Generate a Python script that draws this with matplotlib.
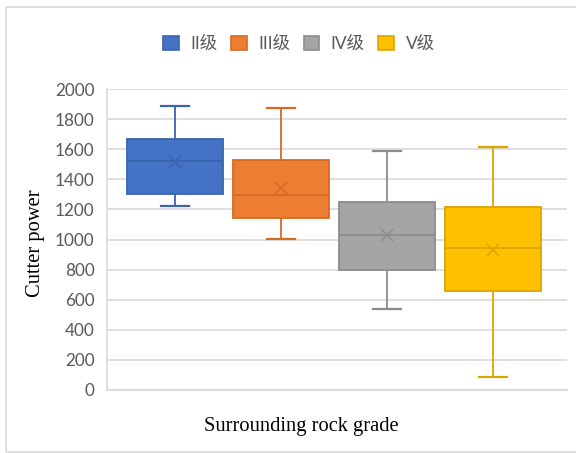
import matplotlib
matplotlib.use("Agg")
import matplotlib.pyplot as plt
from matplotlib.patches import Patch, Rectangle

# Data
grades = ["II级", "III级", "IV级", "V级"]
whisker_low = [1220, 1003, 536, 88]
q1 = [1302, 1143, 799, 658]
median = [1522, 1299, 1028, 941]
q3 = [1665, 1525, 1251, 1214]
whisker_high = [1890, 1877, 1590, 1617]
mean = [1515, 1342, 1032, 930]

face_colors = ["#4472C4", "#ED7D31", "#A5A5A5", "#FFC000"]
edge_colors = ["#3A64AE", "#D46A24", "#8C8C8C", "#DDA400"]

fig = plt.figure(figsize=(5.76, 4.53), dpi=100)
ax = fig.add_axes([107/576, 1-390/453, 460/576, 301/453])

stats = []
for i in range(len(grades)):
    stats.append(dict(label=grades[i], whislo=whisker_low[i], q1=q1[i], med=median[i],
                      q3=q3[i], whishi=whisker_high[i], mean=mean[i], fliers=[]))

positions = list(range(len(grades)))
for i, s in enumerate(stats):
    ec = edge_colors[i]
    ax.bxp([s], positions=[positions[i]], widths=0.905, capwidths=0.27,
           showmeans=True, patch_artist=True, showfliers=False,
           boxprops=dict(facecolor=face_colors[i], edgecolor=ec, linewidth=1.3),
           medianprops=dict(color=ec, linewidth=1.3),
           whiskerprops=dict(color=ec, linewidth=1.3),
           capprops=dict(color=ec, linewidth=1.6),
           meanprops=dict(marker="x", markeredgecolor=ec, markersize=9, markeredgewidth=1.1),
           zorder=3)

ax.set_xlim(-0.642, 3.698)
ax.set_ylim(0, 2000)
ax.set_yticks(range(0, 2001, 200))
ax.set_xticks([])
ax.grid(axis="y", color="#D9D9D9", linewidth=1.2, zorder=0)
ax.set_axisbelow(True)
for side in ["top", "right"]:
    ax.spines[side].set_visible(False)
ax.spines["left"].set_color("#D9D9D9")
ax.spines["bottom"].set_color("#D9D9D9")
ax.spines["left"].set_linewidth(1.2)
ax.spines["bottom"].set_linewidth(1.2)
ax.tick_params(axis="y", length=0, pad=9, labelsize=12.3, labelcolor="#595959")
for lbl in ax.get_yticklabels():
    lbl.set_family(["Lato", "DejaVu Sans"])

ax.set_ylabel("Cutter power", family="Liberation Serif", fontsize=14.8, color="#000000")
ax.yaxis.set_label_coords(-0.135, 0.488)
fig.text(301/576, 1-427/453, "Surrounding rock grade", family="Liberation Serif",
         fontsize=14.8, ha="center", va="center")

handles = [Patch(facecolor=face_colors[i], edgecolor=edge_colors[i], linewidth=1.2, label=grades[i])
           for i in range(len(grades))]
fig.legend(handles=handles, loc="center", bbox_to_anchor=(299/576, 1-44/453), ncol=4,
           frameon=False, handlelength=0.9, handleheight=0.9, handletextpad=0.66,
           columnspacing=0.78, prop=dict(family=["Lato", "Noto Sans CJK SC"], size=12.5),
           labelcolor="#595959")

fig.patches.append(Rectangle((6/576, 1/453), 1.1, 445/453, transform=fig.transFigure,
                             fill=False, edgecolor="#D9D9D9", linewidth=1.2))

fig.savefig("out.png", dpi=100)
